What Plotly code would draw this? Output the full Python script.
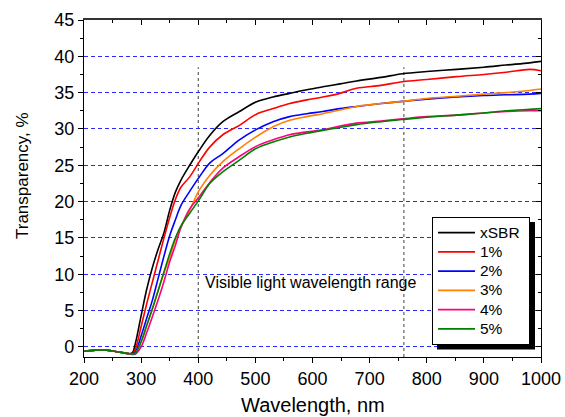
import plotly.graph_objects as go

# Wavelength grid (nm)
wavelength = [200, 220, 240, 260, 280, 285, 290, 300, 310, 320, 330, 340, 350, 360, 370,
              385, 402, 420, 443, 472, 501, 531, 560, 590, 618, 648, 677, 720, 758, 800,
              852, 900, 939, 980, 1000]

base = [-0.6, -0.45, -0.45, -0.7, -0.95]

xsbr = base + [-0.8, 0.5, 4.3, 8.0, 11.0, 13.5, 15.7, 18.8, 21.3, 23.0,
               25.0, 27.1, 29.1, 31.0, 32.4, 33.7, 34.4, 34.9, 35.4, 35.8, 36.2, 36.6, 37.1, 37.6, 37.9,
               38.2, 38.5, 38.8, 39.1, 39.3]
p1 = base + [-0.95, -0.3, 2.8, 6.0, 9.0, 12.0, 15.0, 17.8, 20.3, 22.0,
             23.4, 25.5, 27.5, 29.2, 30.5, 32.0, 32.8, 33.5, 34.0, 34.4, 34.9, 35.6, 36.0, 36.5, 36.8,
             37.2, 37.5, 37.8, 38.2, 38.0]
p2 = base + [-0.95, -0.7, 1.5, 4.0, 6.5, 9.5, 12.5, 15.3, 17.5, 19.5,
             21.4, 23.4, 25.3, 26.6, 28.5, 29.9, 31.0, 31.7, 32.1, 32.4, 32.8, 33.1, 33.5, 33.8, 34.1,
             34.4, 34.6, 34.7, 34.8, 34.9]
p3 = base + [-1.0, -0.9, 0.7, 3.0, 5.3, 7.8, 10.2, 12.3, 14.8, 16.5,
             18.8, 21.6, 23.6, 25.5, 27.3, 28.9, 30.3, 31.2, 31.7, 32.1, 32.6, 33.1, 33.5, 33.8, 34.2,
             34.5, 34.8, 35.0, 35.3, 35.5]
p4 = base + [-1.05, -1.0, 0.0, 2.0, 4.2, 6.5, 9.0, 11.7, 14.0, 16.5,
             19.0, 20.7, 22.6, 24.6, 26.2, 27.6, 28.5, 29.2, 29.6, 29.9, 30.4, 30.8, 31.1, 31.4, 31.7,
             31.9, 32.2, 32.4, 32.5, 32.5]
p5 = base + [-1.0, -0.9, 0.7, 3.0, 5.3, 7.8, 10.3, 12.8, 15.0, 16.7,
             18.4, 20.3, 22.5, 24.1, 25.7, 27.3, 28.2, 28.9, 29.4, 29.8, 30.2, 30.6, 31.0, 31.3, 31.6,
             31.9, 32.2, 32.5, 32.7, 32.8]

series_names = ["xSBR", "1%", "2%", "3%", "4%", "5%"]
series_values = [xsbr, p1, p2, p3, p4, p5]
series_colors = ["#000000", "#FF0000", "#0000FF", "#FF8000", "#FF0080", "#008000"]

visible_range = [400, 760]
visible_line_top = 38.5
annotation_text = "Visible light wavelength range"
annotation_pos = (598, 8.9)

x_ticks = [200, 300, 400, 500, 600, 700, 800, 900, 1000]
y_ticks = [0, 5, 10, 15, 20, 25, 30, 35, 40, 45]
x_range = [200, 1000]
y_range = [-1.4, 45]

FONT = "Arial, Liberation Sans, sans-serif"

# plot area in pixels (for paper-coordinate placement of legend & its shadow)
L, R, T, B = 84, 541, 20, 357
PW, PH = R - L, B - T


def px(x):
    return (x - L) / PW


def py(y):
    return (B - y) / PH


fig = go.Figure()
for name, vals, col in zip(series_names, series_values, series_colors):
    fig.add_trace(go.Scatter(x=wavelength, y=vals,
                             name=f"<span style='font-size:15.5px'>{name}&nbsp;</span>",
                             mode="lines", line=dict(color=col, width=1.6), line_shape="spline"))

# dummy trace for mirrored inside-tick axes
fig.add_trace(go.Scatter(x=[None], y=[None], xaxis="x2", yaxis="y2",
                         showlegend=False, hoverinfo="skip"))

for xv in visible_range:
    fig.add_shape(type="line", xref="x", yref="y", x0=xv, x1=xv, y0=y_range[0], y1=visible_line_top,
                  line=dict(color="#404040", width=1, dash="3px,3px"), layer="below")

# legend shadow
fig.add_shape(type="rect", xref="paper", yref="paper",
              x0=px(437), x1=px(535), y0=py(349.5), y1=py(222),
              fillcolor="black", line=dict(width=0), layer="above")

fig.add_annotation(x=annotation_pos[0], y=annotation_pos[1], text=annotation_text,
                   showarrow=False, xanchor="center", yanchor="middle",
                   font=dict(family=FONT, size=16, color="black"))

# axis titles
fig.add_annotation(x=px(22), y=py(176), xref="paper", yref="paper", text="Transparency, %",
                   textangle=-90, showarrow=False, xanchor="center", yanchor="middle",
                   font=dict(family=FONT, size=17, color="black"))
fig.add_annotation(x=px(312.5), y=py(405), xref="paper", yref="paper", text="Wavelength, nm",
                   showarrow=False, xanchor="center", yanchor="middle",
                   font=dict(family=FONT, size=20, color="black"))

axis_common = dict(showline=True, linecolor="black", linewidth=1.2, automargin=False,
                   tickfont=dict(family=FONT, size=18, color="black"),
                   tickcolor="black", ticklen=5, tickwidth=1)

fig.update_layout(
    template="none",
    width=565, height=417,
    margin=dict(l=L, r=565 - R, t=T, b=417 - B, autoexpand=False),
    paper_bgcolor="white", plot_bgcolor="white",
    showlegend=True,
    legend=dict(x=px(432), y=py(217), xanchor="left", yanchor="top",
                bgcolor="white", bordercolor="black", borderwidth=1,
                font=dict(family=FONT, size=12.5, color="black"),
                tracegroupgap=0, itemwidth=37),
    xaxis=dict(range=x_range, tickvals=x_ticks, ticks="outside", showgrid=False, zeroline=False,
               minor=dict(dtick=50, ticks="outside", ticklen=3, tickcolor="black", showgrid=False),
               **axis_common),
    yaxis=dict(range=y_range, tickvals=y_ticks, ticks="outside", zeroline=False,
               showgrid=True, gridcolor="#2a2aff", griddash="4px,3px", gridwidth=1,
               minor=dict(dtick=2.5, tick0=0, ticks="outside", ticklen=3, tickcolor="black",
                          showgrid=False),
               **axis_common),
    xaxis2=dict(range=x_range, overlaying="x", side="top", tickvals=x_ticks, ticks="inside",
                showticklabels=False, showgrid=False, zeroline=False, anchor="y", automargin=False,
                minor=dict(dtick=50, ticks="inside", ticklen=3, tickcolor="black", showgrid=False),
                showline=True, linecolor="#333333", linewidth=1.6, tickcolor="black", ticklen=5),
    yaxis2=dict(range=y_range, overlaying="y", side="right", tickvals=y_ticks, ticks="inside",
                showticklabels=False, showgrid=False, zeroline=False, anchor="x", automargin=False,
                minor=dict(dtick=2.5, tick0=0, ticks="inside", ticklen=3, tickcolor="black",
                           showgrid=False),
                showline=True, linecolor="black", linewidth=1.2, tickcolor="black", ticklen=5),
)

fig.write_html("out.html", config={"displayModeBar": False},
               post_script="document.body.style.margin='0';document.body.style.overflow='hidden';")
